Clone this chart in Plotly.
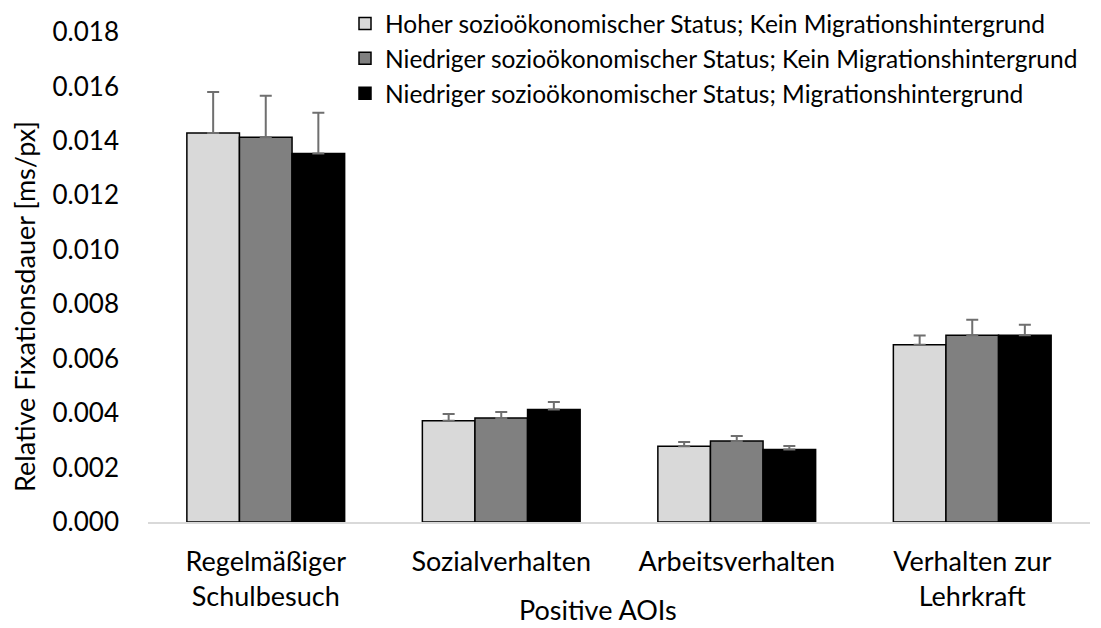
import plotly.graph_objects as go

categories = ["Regelmäßiger<br>Schulbesuch", "Sozialverhalten", "Arbeitsverhalten", "Verhalten zur<br>Lehrkraft"]
series_names = [
    "Hoher sozioökonomischer Status; Kein Migrationshintergrund",
    "Niedriger sozioökonomischer Status; Kein Migrationshintergrund",
    "Niedriger sozioökonomischer Status; Migrationshintergrund",
]
values_hoch_kein = [0.01429, 0.00372, 0.00278, 0.00651]
values_niedrig_kein = [0.01413, 0.00382, 0.00298, 0.00686]
values_niedrig_mig = [0.01354, 0.00413, 0.00266, 0.00686]
err_hoch_kein = [0.00151, 0.00025, 0.00016, 0.00034]
err_niedrig_kein = [0.00153, 0.00022, 0.00018, 0.00057]
err_niedrig_mig = [0.00149, 0.00028, 0.00013, 0.00039]
y_ticks = [0.000, 0.002, 0.004, 0.006, 0.008, 0.010, 0.012, 0.014, 0.016, 0.018]

colors = ["#d9d9d9", "#808080", "#000000"]
FONT = "Lato"

# page body has an 8px margin; figure sized to fit the window exactly
W, H = 1093, 620
ML, MR, MT, MB = 140, 11, 24, 106
PW, PH = W - ML - MR, H - MT - MB

fig = go.Figure()
for name, vals, errs, col in zip(series_names,
                                 [values_hoch_kein, values_niedrig_kein, values_niedrig_mig],
                                 [err_hoch_kein, err_niedrig_kein, err_niedrig_mig],
                                 colors):
    fig.add_trace(go.Bar(
        x=categories, y=vals, name=name,
        marker=dict(color=col, line=dict(color="#000000", width=1.5)),
        error_y=dict(type="data", symmetric=False, array=errs, arrayminus=[0] * len(errs),
                     color="#6f6f6f", thickness=2, width=6),
    ))

fig.update_layout(
    width=W, height=H,
    margin=dict(l=ML, r=MR, t=MT, b=MB, autoexpand=False),
    paper_bgcolor="white", plot_bgcolor="white",
    barmode="group", bargap=0.33, bargroupgap=0,
    font=dict(family=FONT, size=26, color="#000000"),
    showlegend=True,
    legend=dict(
        xref="paper", yref="paper", x=(337 - ML) / PW, y=1 + (MT + 7) / PH,
        xanchor="left", yanchor="top",
        font=dict(family=FONT, size=24.5, color="#000000"),
        bgcolor="rgba(0,0,0,0)", tracegroupgap=0, itemwidth=30,
    ),
    xaxis=dict(
        showgrid=False, showline=True, linecolor="#d9d9d9", linewidth=1.5,
        ticks="", ticklabelstandoff=15,
        tickfont=dict(family=FONT, size=27),
    ),
    yaxis=dict(
        range=[0, 0.018], tickvals=y_ticks, tickformat=".3f",
        showgrid=False, showline=False, zeroline=False,
        ticks="", ticklabelstandoff=28,
        tickfont=dict(family=FONT, size=26),
    ),
    annotations=[
        dict(text="Positive AOIs", xref="paper", yref="paper",
             x=(590 - ML) / PW, y=(PH + MT - 601) / PH, xanchor="center", yanchor="middle",
             showarrow=False, font=dict(family=FONT, size=27)),
        dict(text="Relative Fixationsdauer [ms/px]", xref="paper", yref="paper",
             x=(16 - ML) / PW, y=(PH + MT - 299) / PH, xanchor="center", yanchor="middle",
             textangle=-90, showarrow=False, font=dict(family=FONT, size=27)),
    ],
)

fig.write_html("out.html")
